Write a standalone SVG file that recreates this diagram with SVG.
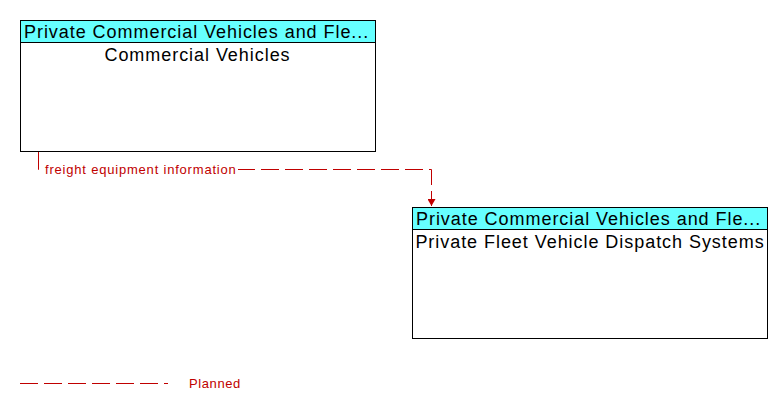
<svg xmlns="http://www.w3.org/2000/svg" width="782" height="410" viewBox="0 0 782 410">
<style>
.box{fill:#ffffff;stroke:#000000;stroke-width:1}
.hdr{fill:#66ffff;stroke:#000000;stroke-width:1}
.t{font-family:"Liberation Sans",Arial,sans-serif;font-size:18px;letter-spacing:0.95px;fill:#000000}
.flow{fill:none;stroke:#c00000;stroke-width:1;stroke-dasharray:18 6}
.lbl{font-family:"Liberation Sans",Arial,sans-serif;font-size:13px;letter-spacing:0.8px;fill:#c00000}
</style>
<defs>
<marker id="arr" markerWidth="8" markerHeight="8" refX="7" refY="4" orient="auto" markerUnits="userSpaceOnUse">
<path d="M0,0 L7,4 L0,8 Z" fill="#c00000"/>
</marker>
</defs>
<rect width="782" height="410" fill="#ffffff"/>
<g id="node-commercial-vehicles">
<rect class="box" x="20.5" y="20.5" width="355" height="131"/>
<rect class="hdr" x="20.5" y="20.5" width="355" height="22"/>
<text class="t" x="24" y="37.5">Private Commercial Vehicles and Fle...</text>
<text class="t" x="197.5" y="60.5" text-anchor="middle">Commercial Vehicles</text>
</g>
<g id="node-dispatch">
<rect class="box" x="412.5" y="207.5" width="355" height="131"/>
<rect class="hdr" x="412.5" y="207.5" width="355" height="22"/>
<text class="t" x="416" y="224.5">Private Commercial Vehicles and Fle...</text>
<text class="t" x="590" y="247.5" text-anchor="middle">Private Fleet Vehicle Dispatch Systems</text>
</g>
<g id="connectors">
<path class="flow" d="M38.5,152 L38.5,169.5 L431.5,169.5 L431.5,206" marker-end="url(#arr)"/>
<rect x="43" y="162" width="195" height="14" fill="#ffffff"/>
<text class="lbl" x="45" y="174">freight equipment information</text>
</g>
<g id="legend">
<line x1="20" y1="383.5" x2="168" y2="383.5" class="flow"/>
<text class="lbl" x="189" y="388" style="letter-spacing:0.6px">Planned</text>
</g>
</svg>
